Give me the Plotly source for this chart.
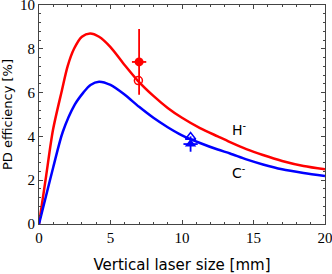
import plotly.graph_objects as go

# Model curves
x_h = [0, 0.5, 0.98, 1.6, 2.0, 2.45, 3.0, 3.57, 4.2, 5.0, 6.0, 6.9, 8.0, 9.0, 10.0, 11.26, 12.5, 13.36, 14.5, 15.66, 17.0, 18.5, 20.0]
y_h = [0, 2.2, 4.3, 6.1, 7.2, 8.0, 8.55, 8.7, 8.55, 8.08, 7.25, 6.55, 5.85, 5.3, 4.85, 4.38, 4.0, 3.74, 3.42, 3.15, 2.88, 2.65, 2.5]
x_c = [0, 0.5, 1.0, 1.66, 2.5, 3.1, 3.6, 4.2, 5.0, 6.0, 7.0, 8.0, 9.0, 10.0, 11.26, 12.5, 13.36, 14.5, 15.66, 17.0, 18.5, 20.0]
y_c = [0, 1.3, 2.6, 4.2, 5.45, 6.0, 6.35, 6.5, 6.35, 5.9, 5.35, 4.85, 4.42, 4.05, 3.7, 3.4, 3.22, 2.95, 2.72, 2.5, 2.33, 2.19]

# Measurements
h_meas_x = [7.0]
h_meas_y = [7.4]
h_meas_ex = [0.5]
h_meas_ey = [1.5]
h_calc_x = [6.95]
h_calc_y = [6.55]
c_meas_x = [10.6]
c_meas_y = [3.65]
c_meas_ex = [0.5]
c_meas_ey = [0.35]
c_calc_x = [10.6]
c_calc_y = [3.97]

RED = "#ff0000"
BLUE = "#0000ff"

fig = go.Figure()
fig.add_trace(go.Scatter(x=x_h, y=y_h, mode="lines", line=dict(color=RED, width=2.5, shape="spline", smoothing=0.8)))
fig.add_trace(go.Scatter(x=x_c, y=y_c, mode="lines", line=dict(color=BLUE, width=2.5, shape="spline", smoothing=0.8)))
fig.add_trace(go.Scatter(x=h_calc_x, y=h_calc_y, mode="markers",
                         marker=dict(symbol="circle-open", size=8, color=RED, line=dict(width=1.5, color=RED))))
fig.add_trace(go.Scatter(x=h_meas_x, y=h_meas_y, mode="markers",
                         marker=dict(symbol="circle", size=9, color=RED),
                         error_x=dict(type="data", array=h_meas_ex, color=RED, thickness=1.8, width=0),
                         error_y=dict(type="data", array=h_meas_ey, color=RED, thickness=1.8, width=0)))
fig.add_trace(go.Scatter(x=c_calc_x, y=c_calc_y, mode="markers",
                         marker=dict(symbol="triangle-up-open", size=9, color=BLUE, line=dict(width=1.5, color=BLUE))))
fig.add_trace(go.Scatter(x=c_meas_x, y=c_meas_y, mode="markers",
                         marker=dict(symbol="triangle-up", size=10, color=BLUE),
                         error_x=dict(type="data", array=c_meas_ex, color=BLUE, thickness=1.8, width=0),
                         error_y=dict(type="data", array=c_meas_ey, color=BLUE, thickness=1.8, width=0)))

fig.add_annotation(x=14.0, y=4.34, text="H<sup>-</sup>", showarrow=False,
                   font=dict(family="DejaVu Sans", size=14, color="black"))
fig.add_annotation(x=14.0, y=2.37, text="C<sup>-</sup>", showarrow=False,
                   font=dict(family="DejaVu Sans", size=14, color="black"))

axis_common = dict(showgrid=False, zeroline=False, showline=True, linecolor="#444", linewidth=1,
                   mirror="allticks", ticks="inside", tickcolor="#444", ticklen=4,
                   ticklabeloverflow="allow", automargin=False,
                   tickfont=dict(family="Liberation Serif", size=15, color="black"))
fig.update_xaxes(range=[0, 20], tickvals=[0, 5, 10, 15, 20],
                 minor=dict(dtick=1, ticks="inside", ticklen=2, tickcolor="#444"),
                 title=dict(text="Vertical laser size [mm]", font=dict(family="DejaVu Sans", size=15, color="black")),
                 **axis_common)
fig.update_yaxes(range=[0, 10], tickvals=[0, 2, 4, 6, 8, 10],
                 minor=dict(dtick=0.4, ticks="inside", ticklen=2, tickcolor="#444"),
                 title=dict(text="PD efficiency [%]", font=dict(family="DejaVu Sans", size=13, color="black")),
                 **axis_common)
fig.update_layout(width=332, height=274, margin=dict(l=39, r=7, t=5, b=50),
                  plot_bgcolor="white", paper_bgcolor="white", showlegend=False)
fig.write_html("out.html", config={"displayModeBar": False, "staticPlot": True},
               post_script="document.body.style.margin='0';document.body.style.overflow='hidden';")
